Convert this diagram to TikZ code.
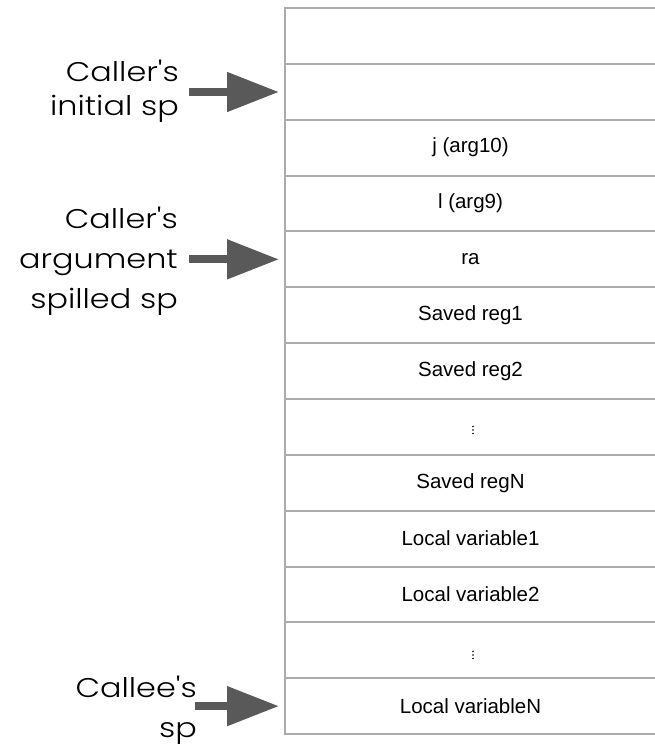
\documentclass[tikz,border=0pt]{standalone}
\usepackage{fontspec}
\setmainfont{Liberation Sans}
\newfontfamily\hand[FakeStretch=1.18, UprightFont=* Light]{Poppins}
\usetikzlibrary{arrows.meta}
\definecolor{gridgray}{HTML}{ABABAB}
\definecolor{arrowgray}{HTML}{595959}
\tikzset{
  cell/.style={draw=gridgray, line width=2pt, minimum width=371pt, minimum height=55.85pt,
    inner sep=0pt, font=\fontsize{20.5}{24}\selectfont, text=black},
  handlabel/.style={align=right, inner sep=0pt, anchor=east, text=black},
  bigarrow/.style={draw=arrowgray, line width=8pt,
    -{Triangle[length=52pt, width=38pt, fill=arrowgray]}, shorten >=5pt},
  tinydot/.style={fill=black, draw=none}
}
\begin{document}
\begin{tikzpicture}[x=1pt, y=-1pt]
\useasboundingbox (0,0) rectangle (655,750);
% stack cells
\node[cell] (r0)  at (470.5, 35.93) {};
\node[cell] (r1)  at (470.5, 91.78) {};
\node[cell] (r2)  at (470.5,147.63) {j (arg10)};
\node[cell] (r3)  at (470.5,203.48) {l (arg9)};
\node[cell] (r4)  at (470.5,259.33) {ra};
\node[cell] (r5)  at (470.5,315.18) {Saved reg1};
\node[cell] (r6)  at (470.5,371.03) {Saved reg2};
\node[cell] (r7)  at (470.5,426.88) {};
\node[cell] (r8)  at (470.5,482.73) {Saved regN};
\node[cell] (r9)  at (470.5,538.58) {Local variable1};
\node[cell] (r10) at (470.5,594.43) {Local variable2};
\node[cell] (r11) at (470.5,650.28) {};
\node[cell] (r12) at (470.5,706.13) {Local variableN};
% vertical ellipsis dots
\foreach \yy in {426.5,430,433.5} {\fill[tinydot] (473,\yy) circle (0.9pt);}
\foreach \yy in {651.5,655,658.5} {\fill[tinydot] (473,\yy) circle (0.9pt);}
% labels
\node[handlabel, font=\hand\fontsize{27}{34}\selectfont] (lab1) at (179,91) {Caller's\\initial sp};
\node[handlabel, font=\hand\fontsize{27}{40}\selectfont] (lab2) at (178,261) {Caller's\\argument\\spilled sp};
\node[handlabel, font=\hand\fontsize{27}{40}\selectfont] (lab3) at (197,710) {Callee's\\sp};
% arrows
\coordinate (a1) at (189,92);
\coordinate (a2) at (189,259.33);
\coordinate (a3) at (195,706.13);
\draw[bigarrow] (a1) -- (r1.west |- a1);
\draw[bigarrow] (a2) -- (r4.west);
\draw[bigarrow] (a3) -- (r12.west);
\end{tikzpicture}
\end{document}
